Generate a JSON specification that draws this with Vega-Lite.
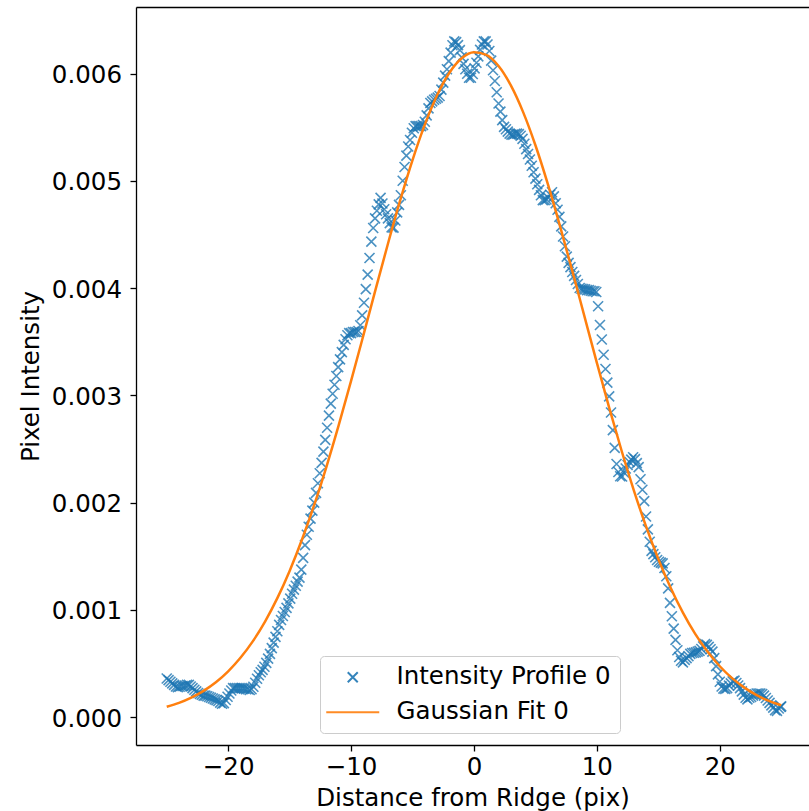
{
"$schema":"https://vega.github.io/schema/vega-lite/v6.json",
"width":673,"height":738,
"autosize":{"type":"none"},
"padding":{"left":136,"top":7,"right":0,"bottom":66},
"datasets":{
"profile":[
{"x":-25,"y":0.00036},{"x":-24.85,"y":0.000345},{"x":-24.7,"y":0.00033},{"x":-24.55,"y":0.000315},{"x":-24.4,"y":0.0003},{"x":-24.25,"y":0.000285},{"x":-24.1,"y":0.00028},{"x":-23.95,"y":0.000283},{"x":-23.8,"y":0.00029},{"x":-23.65,"y":0.00029},
{"x":-23.5,"y":0.000295},{"x":-23.35,"y":0.0003},{"x":-23.2,"y":0.0003},{"x":-23.05,"y":0.000285},{"x":-22.9,"y":0.00027},{"x":-22.75,"y":0.000255},{"x":-22.6,"y":0.00024},{"x":-22.45,"y":0.000225},{"x":-22.3,"y":0.000215},{"x":-22.15,"y":0.000208},
{"x":-22,"y":0.0002},{"x":-21.85,"y":0.0002},{"x":-21.7,"y":0.000195},{"x":-21.55,"y":0.000188},{"x":-21.4,"y":0.00018},{"x":-21.25,"y":0.000173},{"x":-21.1,"y":0.000165},{"x":-20.95,"y":0.000158},{"x":-20.8,"y":0.00015},{"x":-20.65,"y":0.000135},
{"x":-20.5,"y":0.000125},{"x":-20.35,"y":0.00013},{"x":-20.2,"y":0.00016},{"x":-20.05,"y":0.00019},{"x":-19.9,"y":0.00022},{"x":-19.75,"y":0.000248},{"x":-19.6,"y":0.00027},{"x":-19.45,"y":0.00027},{"x":-19.3,"y":0.00027},{"x":-19.15,"y":0.00027},
{"x":-19,"y":0.00027},{"x":-18.85,"y":0.00027},{"x":-18.7,"y":0.000265},{"x":-18.55,"y":0.00026},{"x":-18.4,"y":0.00026},{"x":-18.25,"y":0.000253},{"x":-18.1,"y":0.00026},{"x":-17.95,"y":0.000283},{"x":-17.8,"y":0.00032},{"x":-17.65,"y":0.000358},
{"x":-17.5,"y":0.00039},{"x":-17.35,"y":0.000418},{"x":-17.2,"y":0.00044},{"x":-17.05,"y":0.00047},{"x":-16.9,"y":0.000505},{"x":-16.75,"y":0.000545},{"x":-16.6,"y":0.00059},{"x":-16.45,"y":0.000643},{"x":-16.3,"y":0.000695},{"x":-16.15,"y":0.000748},
{"x":-16,"y":0.0008},{"x":-15.85,"y":0.00086},{"x":-15.7,"y":0.000905},{"x":-15.55,"y":0.000943},{"x":-15.4,"y":0.00098},{"x":-15.25,"y":0.001018},{"x":-15.1,"y":0.00106},{"x":-14.95,"y":0.001105},{"x":-14.8,"y":0.00115},{"x":-14.65,"y":0.001188},
{"x":-14.5,"y":0.001225},{"x":-14.35,"y":0.001263},{"x":-14.2,"y":0.0013},{"x":-14.05,"y":0.001375},{"x":-13.9,"y":0.001485},{"x":-13.75,"y":0.001603},{"x":-13.6,"y":0.0017},{"x":-13.45,"y":0.001775},{"x":-13.3,"y":0.00185},{"x":-13.15,"y":0.001925},
{"x":-13,"y":0.002},{"x":-12.85,"y":0.00209},{"x":-12.7,"y":0.00218},{"x":-12.55,"y":0.002273},{"x":-12.4,"y":0.00237},{"x":-12.25,"y":0.002475},{"x":-12.1,"y":0.002585},{"x":-11.95,"y":0.002698},{"x":-11.8,"y":0.00281},{"x":-11.65,"y":0.002923},
{"x":-11.5,"y":0.003015},{"x":-11.35,"y":0.003098},{"x":-11.2,"y":0.00318},{"x":-11.05,"y":0.003263},{"x":-10.9,"y":0.003335},{"x":-10.75,"y":0.003403},{"x":-10.6,"y":0.00347},{"x":-10.45,"y":0.003523},{"x":-10.3,"y":0.00356},{"x":-10.15,"y":0.00358},
{"x":-10,"y":0.00358},{"x":-9.85,"y":0.00359},{"x":-9.7,"y":0.00359},{"x":-9.55,"y":0.00359},{"x":-9.4,"y":0.0036},{"x":-9.25,"y":0.003653},{"x":-9.1,"y":0.003745},{"x":-8.95,"y":0.003863},{"x":-8.8,"y":0.00399},{"x":-8.65,"y":0.004125},
{"x":-8.5,"y":0.00428},{"x":-8.35,"y":0.004433},{"x":-8.2,"y":0.00456},{"x":-8.05,"y":0.00465},{"x":-7.9,"y":0.00472},{"x":-7.75,"y":0.00478},{"x":-7.6,"y":0.00484},{"x":-7.45,"y":0.004788},{"x":-7.3,"y":0.004735},{"x":-7.15,"y":0.004688},
{"x":-7,"y":0.00465},{"x":-6.85,"y":0.004605},{"x":-6.7,"y":0.004565},{"x":-6.55,"y":0.004563},{"x":-6.4,"y":0.00463},{"x":-6.25,"y":0.004705},{"x":-6.1,"y":0.004775},{"x":-5.95,"y":0.004865},{"x":-5.8,"y":0.005},{"x":-5.65,"y":0.005128},
{"x":-5.5,"y":0.005235},{"x":-5.35,"y":0.00532},{"x":-5.2,"y":0.00538},{"x":-5.05,"y":0.005448},{"x":-4.9,"y":0.00549},{"x":-4.75,"y":0.00551},{"x":-4.6,"y":0.00551},{"x":-4.45,"y":0.00551},{"x":-4.3,"y":0.00551},{"x":-4.15,"y":0.00552},
{"x":-4,"y":0.00555},{"x":-3.85,"y":0.00561},{"x":-3.7,"y":0.005675},{"x":-3.55,"y":0.005725},{"x":-3.4,"y":0.00574},{"x":-3.25,"y":0.005755},{"x":-3.1,"y":0.005765},{"x":-2.95,"y":0.005775},{"x":-2.8,"y":0.00579},{"x":-2.65,"y":0.00585},
{"x":-2.5,"y":0.005915},{"x":-2.35,"y":0.00598},{"x":-2.2,"y":0.00604},{"x":-2.05,"y":0.006115},{"x":-1.9,"y":0.006195},{"x":-1.75,"y":0.006263},{"x":-1.6,"y":0.0063},{"x":-1.45,"y":0.006293},{"x":-1.3,"y":0.006265},{"x":-1.15,"y":0.006218},
{"x":-1,"y":0.00615},{"x":-0.85,"y":0.00609},{"x":-0.7,"y":0.00604},{"x":-0.55,"y":0.005998},{"x":-0.4,"y":0.00596},{"x":-0.25,"y":0.00596},{"x":-0.1,"y":0.005995},{"x":0.05,"y":0.006048},{"x":0.2,"y":0.0061},{"x":0.35,"y":0.00616},
{"x":0.5,"y":0.00622},{"x":0.65,"y":0.00627},{"x":0.8,"y":0.0063},{"x":0.95,"y":0.0063},{"x":1.1,"y":0.00627},{"x":1.25,"y":0.00621},{"x":1.4,"y":0.00612},{"x":1.55,"y":0.00603},{"x":1.7,"y":0.00593},{"x":1.85,"y":0.005825},
{"x":2,"y":0.00572},{"x":2.15,"y":0.005645},{"x":2.3,"y":0.005565},{"x":2.45,"y":0.005503},{"x":2.6,"y":0.00548},{"x":2.75,"y":0.005458},{"x":2.9,"y":0.00544},{"x":3.05,"y":0.00543},{"x":3.2,"y":0.00543},{"x":3.35,"y":0.005438},
{"x":3.5,"y":0.00544},{"x":3.65,"y":0.005435},{"x":3.8,"y":0.00542},{"x":3.95,"y":0.00539},{"x":4.1,"y":0.005345},{"x":4.25,"y":0.005295},{"x":4.4,"y":0.00525},{"x":4.55,"y":0.005198},{"x":4.7,"y":0.00514},{"x":4.85,"y":0.00508},
{"x":5,"y":0.00502},{"x":5.15,"y":0.004968},{"x":5.3,"y":0.004915},{"x":5.45,"y":0.004865},{"x":5.6,"y":0.00482},{"x":5.75,"y":0.00482},{"x":5.9,"y":0.004825},{"x":6.05,"y":0.00484},{"x":6.2,"y":0.00487},{"x":6.35,"y":0.004893},
{"x":6.5,"y":0.004855},{"x":6.65,"y":0.00479},{"x":6.8,"y":0.00473},{"x":6.95,"y":0.004663},{"x":7.1,"y":0.004575},{"x":7.25,"y":0.00448},{"x":7.4,"y":0.00439},{"x":7.55,"y":0.004293},{"x":7.7,"y":0.004235},{"x":7.85,"y":0.004195},
{"x":8,"y":0.00415},{"x":8.15,"y":0.004113},{"x":8.3,"y":0.004075},{"x":8.45,"y":0.004038},{"x":8.6,"y":0.004},{"x":8.75,"y":0.003993},{"x":8.9,"y":0.00399},{"x":9.05,"y":0.003988},{"x":9.2,"y":0.00398},{"x":9.35,"y":0.00398},
{"x":9.5,"y":0.003975},{"x":9.65,"y":0.00397},{"x":9.8,"y":0.00397},{"x":9.95,"y":0.003963},{"x":10.1,"y":0.00383},{"x":10.25,"y":0.003655},{"x":10.4,"y":0.00352},{"x":10.55,"y":0.003378},{"x":10.7,"y":0.003245},{"x":10.85,"y":0.003118},
{"x":11,"y":0.00299},{"x":11.15,"y":0.00284},{"x":11.3,"y":0.002675},{"x":11.45,"y":0.00251},{"x":11.6,"y":0.00236},{"x":11.75,"y":0.002285},{"x":11.9,"y":0.002245},{"x":12.05,"y":0.002243},{"x":12.2,"y":0.00228},{"x":12.35,"y":0.002318},
{"x":12.5,"y":0.00235},{"x":12.65,"y":0.002378},{"x":12.8,"y":0.0024},{"x":12.95,"y":0.002423},{"x":13.1,"y":0.002405},{"x":13.25,"y":0.002368},{"x":13.4,"y":0.00233},{"x":13.55,"y":0.002218},{"x":13.7,"y":0.00212},{"x":13.85,"y":0.002013},
{"x":14,"y":0.00187},{"x":14.15,"y":0.00175},{"x":14.3,"y":0.001635},{"x":14.45,"y":0.00155},{"x":14.6,"y":0.00152},{"x":14.75,"y":0.00149},{"x":14.9,"y":0.001465},{"x":15.05,"y":0.001448},{"x":15.2,"y":0.00144},{"x":15.35,"y":0.001433},
{"x":15.5,"y":0.00139},{"x":15.65,"y":0.001313},{"x":15.8,"y":0.0012},{"x":15.95,"y":0.001065},{"x":16.1,"y":0.00094},{"x":16.25,"y":0.000825},{"x":16.4,"y":0.00072},{"x":16.55,"y":0.000623},{"x":16.7,"y":0.00056},{"x":16.85,"y":0.000525},
{"x":17,"y":0.00051},{"x":17.15,"y":0.000533},{"x":17.3,"y":0.00055},{"x":17.45,"y":0.000568},{"x":17.6,"y":0.00059},{"x":17.75,"y":0.000598},{"x":17.9,"y":0.0006},{"x":18.05,"y":0.000603},{"x":18.2,"y":0.00061},{"x":18.35,"y":0.000618},
{"x":18.5,"y":0.000635},{"x":18.65,"y":0.000658},{"x":18.8,"y":0.00068},{"x":18.95,"y":0.000673},{"x":19.1,"y":0.000655},{"x":19.25,"y":0.000633},{"x":19.4,"y":0.00061},{"x":19.55,"y":0.00055},{"x":19.7,"y":0.000475},{"x":19.85,"y":0.000398},
{"x":20,"y":0.00033},{"x":20.15,"y":0.000285},{"x":20.3,"y":0.000265},{"x":20.45,"y":0.000263},{"x":20.6,"y":0.00027},{"x":20.75,"y":0.000293},{"x":20.9,"y":0.000315},{"x":21.05,"y":0.000333},{"x":21.2,"y":0.00034},{"x":21.35,"y":0.000318},
{"x":21.5,"y":0.000295},{"x":21.65,"y":0.00027},{"x":21.8,"y":0.00024},{"x":21.95,"y":0.00021},{"x":22.1,"y":0.00018},{"x":22.25,"y":0.000165},{"x":22.4,"y":0.00018},{"x":22.55,"y":0.000188},{"x":22.7,"y":0.0002},{"x":22.85,"y":0.000213},
{"x":23,"y":0.00022},{"x":23.15,"y":0.00022},{"x":23.3,"y":0.00022},{"x":23.45,"y":0.000215},{"x":23.6,"y":0.0002},{"x":23.75,"y":0.000178},{"x":23.9,"y":0.000155},{"x":24.05,"y":0.000133},{"x":24.2,"y":0.00011},{"x":24.35,"y":0.000088},
{"x":24.5,"y":0.000065},{"x":24.65,"y":0.000058},{"x":24.8,"y":0.00008},{"x":24.95,"y":0.000095},{"x":25,"y":0.0001}
],
"fit":[
{"x":-25,"y":0.0000964},{"x":-24,"y":0.000133},{"x":-23,"y":0.000182},{"x":-22,"y":0.000245},{"x":-21,"y":0.000325},{"x":-20,"y":0.000427},{"x":-19,"y":0.000553},{"x":-18,"y":0.000706},{"x":-17,"y":0.000891},{"x":-16,"y":0.001109},
{"x":-15,"y":0.001363},{"x":-14,"y":0.001653},{"x":-13,"y":0.001978},{"x":-12,"y":0.002336},{"x":-11,"y":0.002724},{"x":-10,"y":0.003134},{"x":-9,"y":0.003559},{"x":-8,"y":0.00399},{"x":-7,"y":0.004413},{"x":-6,"y":0.004819},
{"x":-5,"y":0.005193},{"x":-4,"y":0.005523},{"x":-3,"y":0.005797},{"x":-2,"y":0.006007},{"x":-1,"y":0.006142},{"x":0,"y":0.006198},{"x":1,"y":0.006174},{"x":2,"y":0.00607},{"x":3,"y":0.005889},{"x":4,"y":0.00564},
{"x":5,"y":0.005331},{"x":6,"y":0.004973},{"x":7,"y":0.004578},{"x":8,"y":0.00416},{"x":9,"y":0.003731},{"x":10,"y":0.003303},{"x":11,"y":0.002885},{"x":12,"y":0.002488},{"x":13,"y":0.002117},{"x":14,"y":0.001778},
{"x":15,"y":0.001474},{"x":16,"y":0.001206},{"x":17,"y":0.000974},{"x":18,"y":0.000776},{"x":19,"y":0.000611},{"x":20,"y":0.000474},{"x":21,"y":0.000363},{"x":22,"y":0.000275},{"x":23,"y":0.000205},{"x":24,"y":0.000151},
{"x":25,"y":0.00011}
]
},
"config":{
"font":"DejaVu Sans",
"view":{"stroke":null},
"axis":{"grid":false,"domainColor":"#000","domainWidth":1.3,"tickColor":"#000","tickWidth":1.3,"tickSize":6,"labelFont":"DejaVu Sans","labelFontSize":24.5,"labelColor":"#000","titleFont":"DejaVu Sans","titleFontSize":24.5,"titleFontWeight":"normal","titleColor":"#000","labelFlush":false,"labelOverlap":false},
"legend":{"orient":"none","legendX":184,"legendY":649,"padding":9,"cornerRadius":4,"strokeColor":"#cccccc","fillColor":"rgba(255,255,255,0.8)","labelFont":"DejaVu Sans","labelFontSize":24.5,"labelColor":"#000","labelLimit":400,"symbolSize":100,"symbolOffset":11.5,"labelOffset":31.5,"rowPadding":10,"symbolStrokeWidth":2,"symbolOpacity":0.9}
},
"resolve":{"axis":{"x":"independent"}},
"layer":[
{"data":{"name":"profile"},
"mark":{"type":"point","filled":false,"size":100,"strokeWidth":1.6,"opacity":0.8},
"encoding":{
"x":{"field":"x","type":"quantitative","scale":{"domain":[-27.5,27.26],"nice":false,"zero":false},
"axis":{"orient":"bottom","values":[-20,-10,0,10,20],"labelExpr":"replace(format(datum.value,'d'),'-','\u2212')","labelBaseline":"alphabetic","labelPadding":23,"title":"Distance from Ridge (pix)","titleBaseline":"alphabetic","titleY":60}},
"y":{"field":"y","type":"quantitative","scale":{"domain":[-0.00026,0.00662],"nice":false,"zero":false},
"axis":{"values":[0,0.001,0.002,0.003,0.004,0.005,0.006],"format":".3f","labelBaseline":"alphabetic","labelOffset":9,"labelPadding":8.5,"title":"Pixel Intensity","titleAngle":-90,"titleBaseline":"alphabetic","titleAlign":"center","titleX":-98,"titleY":369}},
"color":{"datum":"Intensity Profile 0","scale":{"domain":["Intensity Profile 0","Gaussian Fit 0"],"range":["#1f77b4","#ff7f0e"]},"legend":{"title":null}},
"shape":{"datum":"Intensity Profile 0","scale":{"domain":["Intensity Profile 0","Gaussian Fit 0"],"range":["M-1,-1L1,1M1,-1L-1,1","M-5.3,0L5.3,0"]},"legend":{"title":null}}
}},
{"data":{"name":"fit"},
"mark":{"type":"line","strokeWidth":2.5,"interpolate":"monotone"},
"encoding":{
"x":{"field":"x","type":"quantitative","axis":{"orient":"top","labels":false,"ticks":false,"title":null,"domain":true}},
"y":{"field":"y","type":"quantitative"},
"color":{"datum":"Gaussian Fit 0","scale":{"domain":["Intensity Profile 0","Gaussian Fit 0"],"range":["#1f77b4","#ff7f0e"]},"legend":{"title":null}}
}}
]
}
